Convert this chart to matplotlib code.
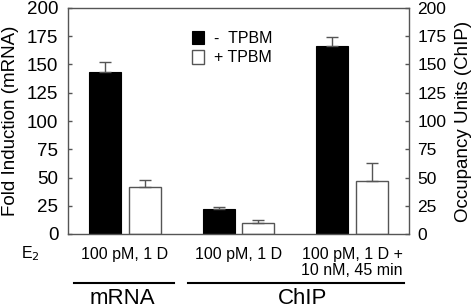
import numpy as np
import matplotlib.pyplot as plt

plt.rcParams['font.family'] = ['Liberation Sans', 'DejaVu Sans']

groups = ["100 pM, 1 D", "100 pM, 1 D", "100 pM, 1 D +\n10 nM, 45 min"]
minus_tpbm = [143, 22.5, 166]
minus_err = [9, 1, 8]
plus_tpbm = [42, 10, 47]
plus_err = [6, 2, 16]
yticks = [0, 25, 50, 75, 100, 125, 150, 175, 200]

fig = plt.figure(figsize=(4.75, 3.07), dpi=100)
ax = fig.add_axes([68 / 475, 1 - 234 / 307, 341 / 475, 226 / 307])

x = np.arange(len(groups))
w = 0.283
edge = "#555555"
ax.bar(x - 0.175, minus_tpbm, w, color="black", edgecolor="black", lw=0.8,
       yerr=[np.zeros(3), minus_err], capsize=4.3,
       error_kw=dict(ecolor=edge, elinewidth=1, capthick=1), label="-  TPBM")
ax.bar(x + 0.175, plus_tpbm, w, color="white", edgecolor=edge, lw=1,
       yerr=[np.zeros(3), plus_err], capsize=4.3,
       error_kw=dict(ecolor=edge, elinewidth=1, capthick=1), label="+ TPBM")

ax.set_xlim(-0.5, 2.5)
ax.set_ylim(0, 200)
ax.set_yticks(yticks)
ax.set_xticks(x)
ax.set_xticklabels(groups, fontsize=11.5, linespacing=1.1)
ax.tick_params(axis="x", length=0, pad=9.5)
ax.tick_params(axis="y", labelsize=13.5, direction="in", length=3, color=edge, width=1, pad=7)
for s in ax.spines.values():
    s.set_color(edge)
    s.set_linewidth(1)
ax.set_ylabel("Fold Induction (mRNA)", fontsize=13.5)
ax.yaxis.set_label_coords(-49 / 341, 0.5)

ax2 = ax.twinx()
ax2.set_ylim(0, 200)
ax2.set_yticks(yticks)
ax2.tick_params(axis="y", labelsize=12.5, direction="in", length=3, color=edge, width=1, pad=6)
for s in ax2.spines.values():
    s.set_visible(False)
ax2.set_ylabel("Occupancy Units (ChIP)", fontsize=13.5)
ax2.yaxis.set_label_coords(1 + 46 / 341, 0.5)

leg = ax.legend(loc="upper left", bbox_to_anchor=(116 / 341, 0.933), frameon=False,
                fontsize=11.5, handlelength=0.75, handleheight=0.9, handletextpad=0.6,
                labelspacing=0.25, borderpad=0)

fig.text(21 / 475, 1 - 254 / 307, "E$_2$", fontsize=11.5, va="center")

fig.add_artist(plt.Line2D([74 / 475, 174 / 475], [1 - 283 / 307] * 2, color="black", lw=1.5))
fig.add_artist(plt.Line2D([188 / 475, 404 / 475], [1 - 283 / 307] * 2, color="black", lw=1.5))
fig.text(122 / 475, 1 - 298 / 307, "mRNA", fontsize=16, ha="center", va="center")
fig.text(303 / 475, 1 - 298 / 307, "ChIP", fontsize=16, ha="center", va="center")

fig.savefig("out.png", dpi=100)
